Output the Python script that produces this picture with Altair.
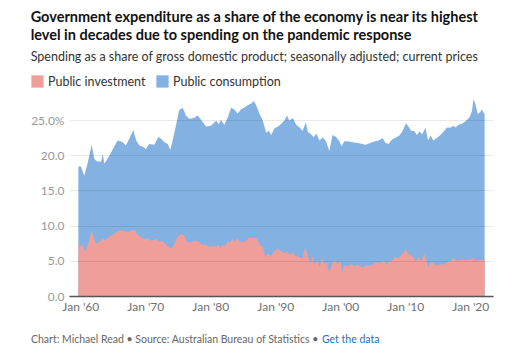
import altair as alt
import pandas as pd

# ---- data (fractional years, % of GDP) ----
top_years = [1959.7, 1960.1, 1960.6, 1961.1, 1961.75, 1962.15, 1962.6, 1963.2, 1963.45, 1963.7,
             1964.5, 1965.2, 1965.75, 1966.5, 1967.0, 1967.55, 1968.15, 1968.6, 1969.1, 1969.6,
             1970.1, 1970.6, 1971.4, 1972.0, 1972.4, 1972.9, 1973.45, 1973.85, 1974.2, 1974.7,
             1975.2, 1975.75, 1976.25, 1976.8, 1977.5, 1978.05, 1978.6, 1979.35, 1980.1, 1980.9,
             1981.3, 1981.65, 1982.15, 1982.7, 1983.2, 1983.7, 1984.2, 1984.7, 1985.2, 1985.75,
             1986.3, 1986.7, 1987.05, 1987.55, 1988.05, 1988.6, 1989.0, 1989.35, 1989.85, 1990.6,
             1991.4, 1991.8, 1992.15, 1992.7, 1993.2, 1993.7, 1994.2, 1994.7, 1995.0, 1995.5,
             1995.9, 1996.3, 1996.8, 1997.3, 1997.8, 1998.3, 1998.8, 1999.35, 1999.85, 2000.2,
             2000.6, 2001.4, 2002.1, 2002.9, 2003.4, 2003.9, 2004.5, 2005.2, 2006.0, 2006.5,
             2006.9, 2007.4, 2007.9, 2008.4, 2009.1, 2009.6, 2010.1, 2010.4, 2010.9, 2011.4,
             2011.8, 2012.2, 2012.6, 2013.1, 2013.5, 2013.9, 2014.3, 2015.0, 2015.65, 2016.4,
             2016.9, 2017.4, 2017.7, 2018.2, 2018.85, 2019.35, 2019.9, 2020.25, 2020.5, 2020.75,
             2021.15, 2021.5, 2021.8, 2022.0, 2022.2]
# total government spending (top edge of the stacked areas)
top_values = [18.4, 18.4, 17.1, 18.8, 21.5, 19.5, 19.1, 19.1, 20.2, 18.8,
              20.0, 21.2, 22.1, 21.9, 21.4, 22.4, 23.6, 22.1, 21.4, 21.2,
              20.9, 21.6, 21.5, 22.6, 22.4, 21.9, 21.6, 20.8, 22.1, 24.2,
              26.4, 26.75, 25.65, 25.2, 25.3, 25.65, 25.0, 24.1, 24.2, 24.9,
              24.4, 25.0, 24.35, 25.4, 26.75, 26.5, 25.9, 26.5, 26.75, 27.1,
              27.35, 27.7, 27.1, 25.9, 25.0, 23.2, 23.5, 22.9, 23.8, 24.2,
              24.95, 25.65, 24.95, 25.3, 24.35, 24.0, 23.5, 24.7, 23.3, 23.0,
              22.55, 23.1, 22.1, 22.55, 22.0, 20.6, 22.9, 22.6, 22.0, 21.3,
              22.0, 21.95, 21.8, 21.7, 21.6, 21.5, 21.7, 21.95, 22.15, 22.45,
              21.8, 21.6, 22.2, 22.45, 22.8, 23.5, 24.55, 24.2, 23.5, 23.4,
              22.9, 23.4, 23.0, 23.9, 22.1, 22.8, 22.1, 22.55, 23.1, 23.95,
              23.9, 24.2, 23.95, 24.35, 24.55, 24.9, 25.4, 26.3, 28.0, 27.4,
              25.85, 26.1, 26.55, 26.1, 25.85]

inv_years = [1959.7, 1960.35, 1960.7, 1961.1, 1961.35, 1961.75, 1962.05, 1962.4, 1962.9, 1963.45,
             1963.7, 1964.2, 1964.7, 1965.2, 1965.75, 1966.15, 1966.8, 1967.4, 1967.8, 1968.3,
             1968.7, 1969.35, 1969.85, 1970.35, 1970.9, 1971.65, 1972.15, 1972.7, 1973.2, 1973.7,
             1974.05, 1974.45, 1974.9, 1975.25, 1975.65, 1976.0, 1976.35, 1976.9, 1977.55, 1978.2,
             1978.7, 1979.35, 1979.85, 1980.6, 1981.3, 1981.55, 1981.9, 1982.3, 1982.7, 1983.05,
             1983.45, 1983.85, 1984.05, 1984.45, 1985.0, 1985.5, 1985.9, 1986.5, 1987.05, 1987.45,
             1987.8, 1988.15, 1988.45, 1988.8, 1989.35, 1989.85, 1990.35, 1991.0, 1991.4, 1991.8,
             1992.15, 1992.7, 1993.05, 1993.7, 1994.2, 1994.6, 1995.0, 1995.4, 1995.75, 1996.0,
             1996.5, 1996.8, 1997.2, 1997.55, 1997.95, 1998.3, 1998.8, 1999.2, 1999.6, 2000.0,
             2000.3, 2000.6, 2001.1, 2001.75, 2002.15, 2002.75, 2003.4, 2003.9, 2004.7, 2005.45,
             2006.25, 2006.75, 2007.15, 2007.5, 2007.9, 2008.4, 2008.95, 2009.6, 2010.1, 2010.5,
             2010.9, 2011.4, 2011.65, 2012.0, 2012.45, 2012.95, 2013.2, 2013.5, 2013.85, 2014.25,
             2014.65, 2015.25, 2015.65, 2016.0, 2016.5, 2017.0, 2017.5, 2017.9, 2018.55, 2019.35,
             2020.1, 2020.45, 2021.0, 2021.65, 2022.2]
inv_values = [7.14, 7.2, 6.3, 7.1, 7.85, 9.3, 8.2, 7.5, 7.6, 8.2,
              7.85, 8.2, 8.6, 8.8, 9.2, 9.4, 9.2, 9.05, 9.3, 9.4,
              8.8, 8.3, 8.1, 8.2, 7.85, 8.1, 7.75, 7.75, 7.3, 6.9,
              6.8, 7.4, 8.3, 8.6, 8.8, 8.6, 7.75, 7.6, 7.85, 7.75,
              7.3, 7.3, 7.05, 7.05, 7.25, 6.8, 7.3, 7.1, 7.75, 7.6,
              8.1, 7.6, 8.25, 7.75, 7.6, 7.85, 8.25, 8.25, 8.25, 7.6,
              7.15, 6.9, 5.5, 6.05, 5.7, 6.4, 6.65, 6.3, 6.05, 6.4,
              5.85, 6.2, 5.7, 5.55, 5.4, 6.9, 5.7, 4.6, 5.7, 4.5,
              5.1, 4.15, 5.4, 4.5, 4.75, 3.35, 4.75, 5.0, 4.5, 5.0,
              3.35, 4.3, 4.3, 4.5, 4.3, 4.45, 4.05, 4.3, 4.3, 4.75,
              4.75, 5.0, 4.45, 4.9, 5.0, 5.5, 5.4, 6.05, 6.65, 5.95,
              5.85, 5.25, 4.9, 5.5, 5.0, 5.95, 5.25, 4.05, 4.75, 4.75,
              4.3, 4.45, 4.6, 4.45, 4.9, 5.0, 5.4, 5.0, 5.15, 5.1,
              5.15, 5.4, 5.0, 5.2, 5.1]

series_names = ["Public investment", "Public consumption"]
series_colors = ["#f09e9a", "#83b2e2"]
tick_years = [1960, 1970, 1980, 1990, 2000, 2010, 2020]
y_ticks = [0, 5, 10, 15, 20, 25]

title_lines = ["Government expenditure as a share of the economy is near its highest",
               "level in decades due to spending on the pandemic response"]
subtitle = "Spending as a share of gross domestic product; seasonally adjusted; current prices"
footer_text = "Chart: Michael Read \u2022 Source: Australian Bureau of Statistics \u2022"
footer_link = "Get the data"

FONT = "Lato"


def to_date(y):
    yr = int(y)
    return pd.Timestamp(year=yr, month=1, day=1) + pd.Timedelta(days=(y - yr) * 365.25)


top_df = pd.DataFrame({"date": [to_date(y) for y in top_years], "value": top_values,
                       "series": series_names[1]})
inv_df = pd.DataFrame({"date": [to_date(y) for y in inv_years], "value": inv_values,
                       "series": series_names[0]})

x_domain = [to_date(1958.26).isoformat(), to_date(2023.49).isoformat()]

color = alt.Color(
    "series:N",
    scale=alt.Scale(domain=series_names, range=series_colors),
    legend=alt.Legend(
        orient="none", legendX=-38, legendY=-24, direction="horizontal", title=None,
        symbolType="square", symbolSize=150, symbolStrokeWidth=0, symbolOpacity=1,
        labelFont=FONT, labelFontSize=12.5, labelColor="#333333", columnPadding=10,
        padding=0, labelOffset=4,
    ),
)

x_enc = alt.X(
    "date:T",
    scale=alt.Scale(domain=x_domain),
    axis=alt.Axis(
        title=None, format="%b '%y", values=[alt.DateTime(year=y, month=1, date=1) for y in tick_years],
        grid=False, ticks=False, labelFont=FONT, labelFontSize=12, labelColor="#707070",
        labelPadding=5, domainColor="#555555", domainWidth=1.5, zindex=1, labelFlush=False,
    ),
)
y_enc = alt.Y(
    "value:Q",
    scale=alt.Scale(domain=[0, 28], nice=False),
    axis=alt.Axis(
        title=None, values=y_ticks, domain=False, ticks=False,
        labelExpr="datum.value == 25 ? '25.0%' : format(datum.value, '.1f')",
        labelFont=FONT, labelFontSize=12, labelColor="#999999", labelPadding=5,
        gridColor="#000000", gridOpacity=0.09, gridWidth=1, zindex=1,
    ),
)

top_area = alt.Chart(top_df).mark_area(interpolate="linear").encode(x=x_enc, y=y_enc, color=color)
inv_area = alt.Chart(inv_df).mark_area(interpolate="linear").encode(x=x_enc, y=y_enc, color=color)

foot_df = pd.DataFrame({"a": [footer_text], "b": [footer_link]})
foot1 = alt.Chart(foot_df).mark_text(
    align="left", baseline="alphabetic", font=FONT, fontSize=10.5, color="#666666"
).encode(text="a:N", x=alt.value(-38), y=alt.value(244))
foot2 = alt.Chart(foot_df).mark_text(
    align="left", baseline="alphabetic", font=FONT, fontSize=10.5, color="#1f6fc5"
).encode(text="b:N", x=alt.value(253), y=alt.value(244))

chart = alt.layer(top_area, inv_area, foot1, foot2).properties(
    width=424,
    height=197,
    padding={"left": 22, "top": 2, "right": 5, "bottom": 5},
    title=alt.Title(
        text=title_lines, subtitle=subtitle, anchor="start", frame="bounds",
        font=FONT, fontSize=14.5, fontWeight="bold", color="#121212", lineHeight=18,
        subtitleFont=FONT, subtitleFontSize=12.5, subtitleColor="#333333", subtitlePadding=7,
        offset=11,
    ),
).configure_view(stroke=None)

chart.save("out.html", embed_options={"renderer": "svg", "actions": False})
